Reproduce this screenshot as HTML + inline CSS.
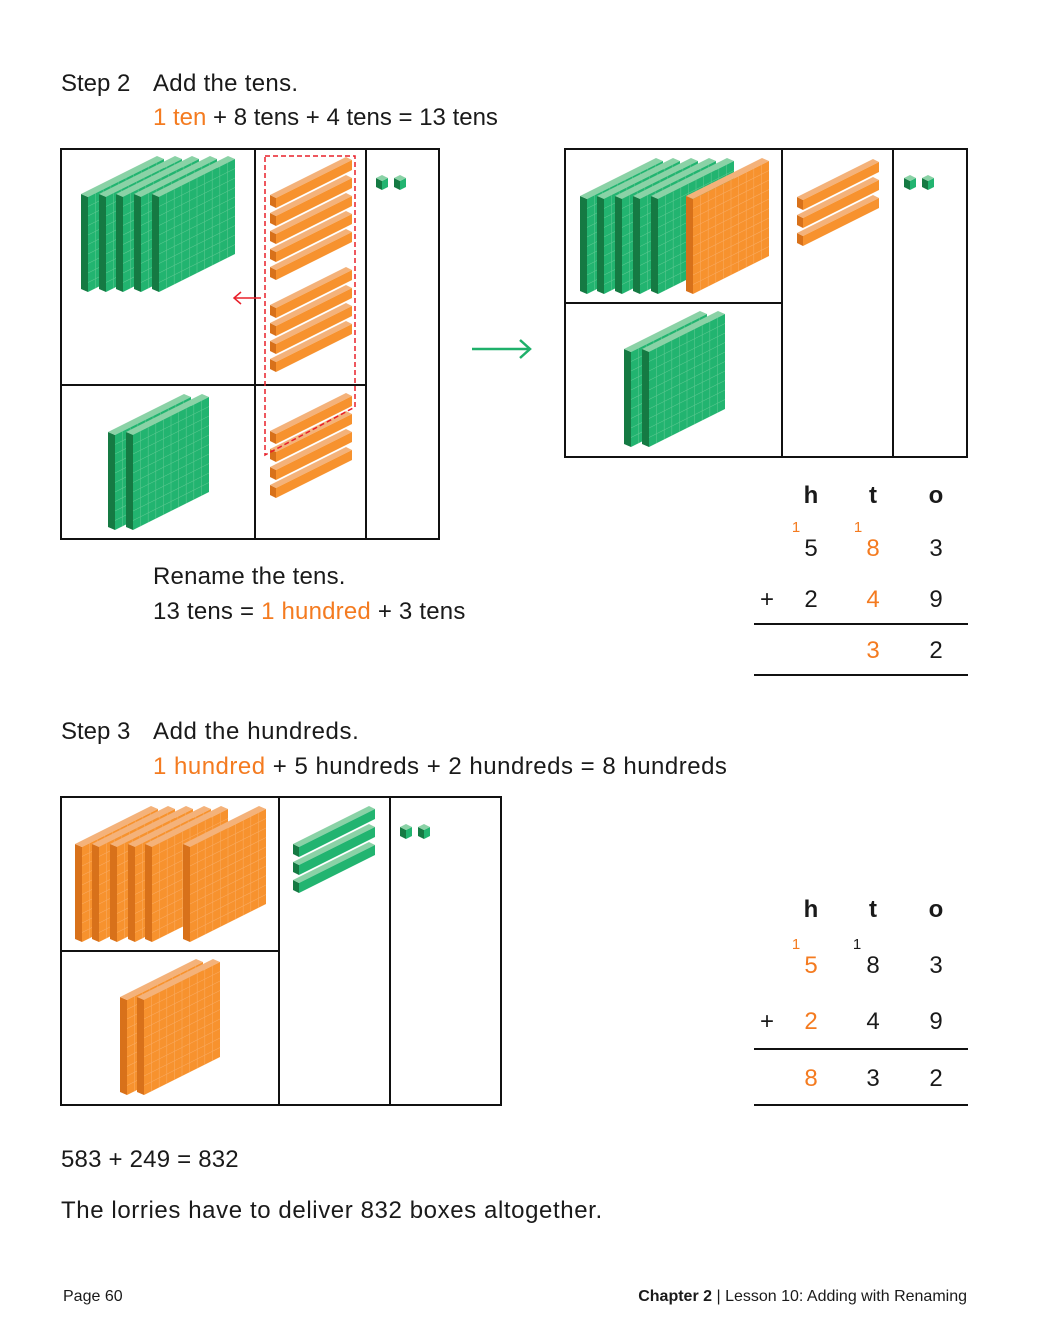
<!DOCTYPE html>
<html><head><meta charset="utf-8"><style>
html,body{margin:0;padding:0;background:#fff}
svg{display:block}
text{font-family:"Liberation Sans",sans-serif;fill:#1a1a1a}
.o{fill:#f47b20}
</style></head><body>
<svg width="1040" height="1330" viewBox="0 0 1040 1330" xmlns="http://www.w3.org/2000/svg">
<defs>
<g id="gflat">
<polygon points="-7,-3 0,0 0,95 -7,92" fill="#157a43"/>
<polygon points="-7,-3 69,-41 76,-38 0,0" fill="#8ad2a6"/>
<polygon points="0,0 76,-38 76,57 0,95" fill="#22b470"/>
<g stroke="#7fd3a4" stroke-width="0.6" opacity="0.6">
<line x1="7.6" y1="-3.8" x2="7.6" y2="91.2"/><line x1="15.2" y1="-7.6" x2="15.2" y2="87.4"/><line x1="22.8" y1="-11.4" x2="22.8" y2="83.6"/><line x1="30.4" y1="-15.2" x2="30.4" y2="79.8"/><line x1="38" y1="-19" x2="38" y2="76"/><line x1="45.6" y1="-22.8" x2="45.6" y2="72.2"/><line x1="53.2" y1="-26.6" x2="53.2" y2="68.4"/><line x1="60.8" y1="-30.4" x2="60.8" y2="64.6"/><line x1="68.4" y1="-34.2" x2="68.4" y2="60.8"/>
<line x1="0" y1="9.5" x2="76" y2="-28.5"/><line x1="0" y1="19" x2="76" y2="-19"/><line x1="0" y1="28.5" x2="76" y2="-9.5"/><line x1="0" y1="38" x2="76" y2="0"/><line x1="0" y1="47.5" x2="76" y2="9.5"/><line x1="0" y1="57" x2="76" y2="19"/><line x1="0" y1="66.5" x2="76" y2="28.5"/><line x1="0" y1="76" x2="76" y2="38"/><line x1="0" y1="85.5" x2="76" y2="47.5"/>
</g></g>
<g id="oflat">
<polygon points="-7,-3 0,0 0,95 -7,92" fill="#d8711a"/>
<polygon points="-7,-3 69,-41 76,-38 0,0" fill="#f4b27a"/>
<polygon points="0,0 76,-38 76,57 0,95" fill="#f7922e"/>
<g stroke="#f9b474" stroke-width="0.6" opacity="0.7">
<line x1="7.6" y1="-3.8" x2="7.6" y2="91.2"/><line x1="15.2" y1="-7.6" x2="15.2" y2="87.4"/><line x1="22.8" y1="-11.4" x2="22.8" y2="83.6"/><line x1="30.4" y1="-15.2" x2="30.4" y2="79.8"/><line x1="38" y1="-19" x2="38" y2="76"/><line x1="45.6" y1="-22.8" x2="45.6" y2="72.2"/><line x1="53.2" y1="-26.6" x2="53.2" y2="68.4"/><line x1="60.8" y1="-30.4" x2="60.8" y2="64.6"/><line x1="68.4" y1="-34.2" x2="68.4" y2="60.8"/>
<line x1="0" y1="9.5" x2="76" y2="-28.5"/><line x1="0" y1="19" x2="76" y2="-19"/><line x1="0" y1="28.5" x2="76" y2="-9.5"/><line x1="0" y1="38" x2="76" y2="0"/><line x1="0" y1="47.5" x2="76" y2="9.5"/><line x1="0" y1="57" x2="76" y2="19"/><line x1="0" y1="66.5" x2="76" y2="28.5"/><line x1="0" y1="76" x2="76" y2="38"/><line x1="0" y1="85.5" x2="76" y2="47.5"/>
</g></g>
<g id="orod">
<polygon points="-6,-3 0,0 0,10 -6,7" fill="#d8711a"/>
<polygon points="-6,-3 70,-41 76,-38 0,0" fill="#f4b27a"/>
<polygon points="0,0 76,-38 76,-28 0,10" fill="#f7922e"/>
</g>
<g id="grod">
<polygon points="-6,-3 0,0 0,10 -6,7" fill="#157a43"/>
<polygon points="-6,-3 70,-41 76,-38 0,0" fill="#8ad2a6"/>
<polygon points="0,0 76,-38 76,-28 0,10" fill="#22b470"/>
</g>
<g id="cube">
<polygon points="0,3 6,6 6,15 0,12" fill="#157a43"/>
<polygon points="6,6 12,3 12,12 6,15" fill="#22b470"/>
<polygon points="0,3 6,0 12,3 6,6" fill="#8ad2a6"/>
</g>
</defs>

<text x="61" y="91" font-size="24">Step 2</text>
<text x="153" y="91" font-size="24" letter-spacing="0.3">Add the tens.</text>
<text x="153" y="125" font-size="24"><tspan class="o">1 ten</tspan> + 8 tens + 4 tens = 13 tens</text>

<g fill="none" stroke="#111" stroke-width="2">
<rect x="61" y="149" width="378" height="390"/>
<line x1="255" y1="149" x2="255" y2="539"/>
<line x1="366" y1="149" x2="366" y2="539"/>
<line x1="61" y1="385" x2="366" y2="385"/>
</g>
<use href="#gflat" x="88" y="197"/><use href="#gflat" x="106" y="197"/><use href="#gflat" x="123" y="197"/><use href="#gflat" x="141" y="197"/><use href="#gflat" x="159" y="197"/>
<use href="#gflat" x="115" y="435"/><use href="#gflat" x="133" y="435"/>
<use href="#orod" x="276" y="198"/><use href="#orod" x="276" y="216"/><use href="#orod" x="276" y="234"/><use href="#orod" x="276" y="252"/><use href="#orod" x="276" y="270"/>
<use href="#orod" x="276" y="308"/><use href="#orod" x="276" y="326"/><use href="#orod" x="276" y="344"/><use href="#orod" x="276" y="362"/>
<use href="#orod" x="276" y="434"/><use href="#orod" x="276" y="452"/><use href="#orod" x="276" y="470"/><use href="#orod" x="276" y="488"/>
<polygon points="265,156 355,156 355,407 265,455" fill="none" stroke="#e8202a" stroke-width="1.5" stroke-dasharray="5,3"/>
<line x1="261" y1="298" x2="234" y2="298" stroke="#e8202a" stroke-width="1.5"/>
<polyline points="241,292 234,298 241,304" fill="none" stroke="#e8202a" stroke-width="1.5"/>
<use href="#cube" x="376" y="175"/><use href="#cube" x="394" y="175"/>

<line x1="472" y1="349" x2="530" y2="349" stroke="#1fb06a" stroke-width="2.5"/>
<polyline points="520,340 530,349 520,358" fill="none" stroke="#1fb06a" stroke-width="2.5"/>

<g fill="none" stroke="#111" stroke-width="2">
<rect x="565" y="149" width="402" height="308"/>
<line x1="782" y1="149" x2="782" y2="457"/>
<line x1="893" y1="149" x2="893" y2="457"/>
<line x1="565" y1="303" x2="782" y2="303"/>
</g>
<use href="#gflat" x="587" y="199"/><use href="#gflat" x="604" y="199"/><use href="#gflat" x="622" y="199"/><use href="#gflat" x="640" y="199"/><use href="#gflat" x="658" y="199"/>
<use href="#oflat" x="693" y="199"/>
<use href="#gflat" x="631" y="352"/><use href="#gflat" x="649" y="352"/>
<use href="#orod" x="803" y="200"/><use href="#orod" x="803" y="218"/><use href="#orod" x="803" y="236"/>
<use href="#cube" x="904" y="175"/><use href="#cube" x="922" y="175"/>

<g font-size="24" text-anchor="middle">
<text x="811" y="503" font-weight="bold">h</text><text x="873" y="503" font-weight="bold">t</text><text x="936" y="503" font-weight="bold">o</text>
<text x="796" y="532" font-size="15" class="o">1</text><text x="858" y="532" font-size="15" class="o">1</text>
<text x="811" y="556">5</text><text x="873" y="556" class="o">8</text><text x="936" y="556">3</text>
<text x="767" y="607">+</text><text x="811" y="607">2</text><text x="873" y="607" class="o">4</text><text x="936" y="607">9</text>
<text x="873" y="658" class="o">3</text><text x="936" y="658">2</text>
</g>
<line x1="754" y1="624" x2="968" y2="624" stroke="#111" stroke-width="2"/>
<line x1="754" y1="675" x2="968" y2="675" stroke="#111" stroke-width="2"/>

<text x="153" y="584" font-size="24" letter-spacing="0.2">Rename the tens.</text>
<text x="153" y="619" font-size="24" letter-spacing="0.2">13 tens = <tspan class="o">1 hundred</tspan> + 3 tens</text>

<text x="61" y="739" font-size="24">Step 3</text>
<text x="153" y="739" font-size="24" letter-spacing="0.6">Add the hundreds.</text>
<text x="153" y="774" font-size="24" letter-spacing="0.5"><tspan class="o">1 hundred</tspan> + 5 hundreds + 2 hundreds = 8 hundreds</text>

<g fill="none" stroke="#111" stroke-width="2">
<rect x="61" y="797" width="440" height="308"/>
<line x1="279" y1="797" x2="279" y2="1105"/>
<line x1="390" y1="797" x2="390" y2="1105"/>
<line x1="61" y1="951" x2="279" y2="951"/>
</g>
<use href="#oflat" x="82" y="847"/><use href="#oflat" x="99" y="847"/><use href="#oflat" x="117" y="847"/><use href="#oflat" x="135" y="847"/><use href="#oflat" x="152" y="847"/>
<use href="#oflat" x="190" y="847"/>
<use href="#oflat" x="127" y="1000"/><use href="#oflat" x="144" y="1000"/>
<use href="#grod" x="299" y="847"/><use href="#grod" x="299" y="865"/><use href="#grod" x="299" y="883"/>
<use href="#cube" x="400" y="824"/><use href="#cube" x="418" y="824"/>

<g font-size="24" text-anchor="middle">
<text x="811" y="917" font-weight="bold">h</text><text x="873" y="917" font-weight="bold">t</text><text x="936" y="917" font-weight="bold">o</text>
<text x="796" y="949" font-size="15" class="o">1</text><text x="857" y="949" font-size="15">1</text>
<text x="811" y="973" class="o">5</text><text x="873" y="973">8</text><text x="936" y="973">3</text>
<text x="767" y="1029">+</text><text x="811" y="1029" class="o">2</text><text x="873" y="1029">4</text><text x="936" y="1029">9</text>
<text x="811" y="1086" class="o">8</text><text x="873" y="1086">3</text><text x="936" y="1086">2</text>
</g>
<line x1="754" y1="1049" x2="968" y2="1049" stroke="#111" stroke-width="2"/>
<line x1="754" y1="1105" x2="968" y2="1105" stroke="#111" stroke-width="2"/>

<text x="61" y="1167" font-size="24" letter-spacing="0.2">583 + 249 = 832</text>
<text x="61" y="1218" font-size="24" letter-spacing="0.6">The lorries have to deliver 832 boxes altogether.</text>

<text x="63" y="1301" font-size="16">Page 60</text>
<text x="967" y="1301" font-size="16" text-anchor="end"><tspan font-weight="bold">Chapter 2</tspan> | Lesson 10: Adding with Renaming</text>
</svg>
</body></html>
